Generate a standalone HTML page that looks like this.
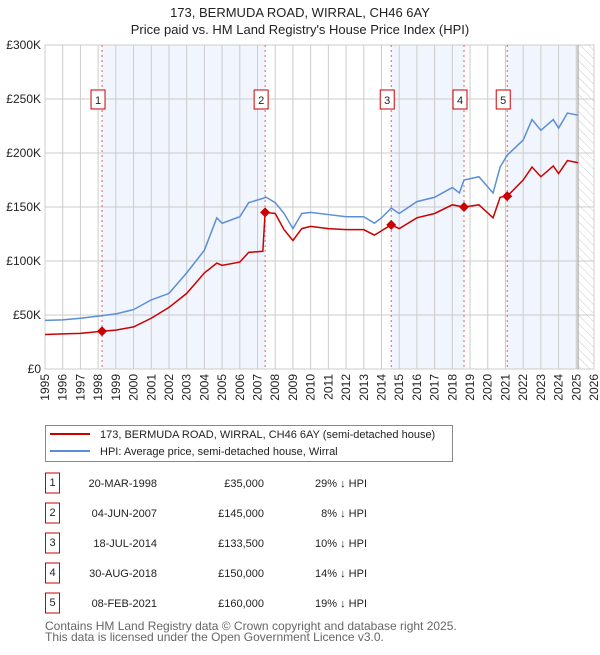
<!DOCTYPE html>
<html><head><meta charset="utf-8"><style>
body{margin:0;background:#fff;font-family:"Liberation Sans","DejaVu Sans",sans-serif;}
svg text{font-family:"Liberation Sans","DejaVu Sans",sans-serif;}
</style></head><body>
<svg id="chart" width="600" height="650" viewBox="0 0 600 650" xmlns="http://www.w3.org/2000/svg">
<defs><pattern id="hatch" width="6" height="6" patternUnits="userSpaceOnUse" patternTransform="rotate(-45)"><line x1="0" y1="0" x2="0" y2="6" stroke="#ccc" stroke-width="1"/></pattern></defs>
<text x="300" y="17" text-anchor="middle" font-size="13" fill="#222">173, BERMUDA ROAD, WIRRAL, CH46 6AY</text>
<text x="300" y="34" text-anchor="middle" font-size="13" fill="#222">Price paid vs. HM Land Registry's House Price Index (HPI)</text>
<g id="plot"></g>
<g>
<rect x="45.5" y="425.5" width="407" height="36" fill="#fff" stroke="#888"/>
<line x1="50" y1="434" x2="90" y2="434" stroke="#cc0000" stroke-width="2"/>
<text x="100" y="438" font-size="11" fill="#222">173, BERMUDA ROAD, WIRRAL, CH46 6AY (semi-detached house)</text>
<line x1="50" y1="451" x2="90" y2="451" stroke="#5b8ed6" stroke-width="2"/>
<text x="100" y="455" font-size="11" fill="#222">HPI: Average price, semi-detached house, Wirral</text>
</g>
<g id="table"></g>
<text x="45" y="630" font-size="12" fill="#666">Contains HM Land Registry data © Crown copyright and database right 2025.</text>
<text x="45" y="641" font-size="12" fill="#666">This data is licensed under the Open Government Licence v3.0.</text>
</svg>
<script>
const hpiYears=[1995,1996,1997,1998,1999,2000,2001,2002,2003,2004,2004.7,2005,2006,2006.5,2007.5,2008,2008.5,2009,2009.5,2010,2011,2012,2013,2013.6,2014,2014.55,2015,2016,2017,2018,2018.4,2018.66,2019.5,2020.3,2020.7,2021.1,2022,2022.5,2023,2023.7,2024,2024.5,2025.1];
const hpiValues=[45,45.5,47,49,51,55,64,70,89,110,140,135,141,154,159,154,144,130,144,145,143,141,141,135,140,149,144,155,159,168,163,175,178,163,187,198,212,231,221,231,223,237,235];
const ppYears=[1995,1996,1997,1998.2,1999,2000,2001,2002,2003,2004,2004.7,2005,2006,2006.5,2007.3,2007.43,2008,2008.5,2009,2009.5,2010,2011,2012,2013,2013.6,2014.55,2015,2016,2017,2018,2018.66,2019.5,2020.3,2020.7,2021.1,2022,2022.5,2023,2023.7,2024,2024.5,2025.1];
const ppValues=[32,32.5,33,35,36,39,47,57,70,89,98,96,99,108,109,145,144,129,119,130,132,130,129,129,124,133.5,130,140,144,152,150,152,140,159,160,175,187,178,188,181,193,191];
const saleNums=["1","2","3","4","5"];
const saleYears=[1998.22,2007.43,2014.55,2018.66,2021.1];
const saleValues=[35,145,133.5,150,160];
const saleDates=["20-MAR-1998","04-JUN-2007","18-JUL-2014","30-AUG-2018","08-FEB-2021"];
const salePrices=["£35,000","£145,000","£133,500","£150,000","£160,000"];
const salePcts=["29% ↓ HPI","8% ↓ HPI","10% ↓ HPI","14% ↓ HPI","19% ↓ HPI"];
const yTicks=[0,50,100,150,200,250,300];
const yTickLabels=["£0","£50K","£100K","£150K","£200K","£250K","£300K"];
const xTicks=[1995,1996,1997,1998,1999,2000,2001,2002,2003,2004,2005,2006,2007,2008,2009,2010,2011,2012,2013,2014,2015,2016,2017,2018,2019,2020,2021,2022,2023,2024,2025,2026];
const dataEnd=2025.1;

const X0=45,X1=594,Y0=369,Y1=45;
const x=v=>X0+(v-1995)/(2026-1995)*(X1-X0);
const y=v=>Y0-v/300*(Y0-Y1);
const NS="http://www.w3.org/2000/svg";
const plot=document.getElementById('plot');
function mk(tag,attrs,parent){const e=document.createElementNS(NS,tag);for(const k in attrs)e.setAttribute(k,attrs[k]);(parent||plot).appendChild(e);return e;}

for(let i=0;i<saleYears.length;i+=2){
  const a=saleYears[i],b=i+1<saleYears.length?saleYears[i+1]:dataEnd;
  const r=mk('rect',{x:x(a),y:Y1,width:x(b)-x(a),height:Y0-Y1,fill:'#eef3fc',opacity:0.8});
  
  
}
const h=mk('rect',{x:x(dataEnd),y:Y1,width:X1-x(dataEnd),height:Y0-Y1,fill:'url(#hatch)'});


xTicks.forEach(t=>{
  const l=mk('line',{x1:x(t),x2:x(t),y1:Y1,y2:Y0,stroke:'#ccc','stroke-width':1});
  
  
  const tx=mk('text',{x:0,y:0,'text-anchor':'end','font-size':12,fill:'#222',transform:`translate(${x(t)+4},${Y0+5}) rotate(-90)`});
  
  
  tx.textContent=t;
});
yTicks.forEach((t,i)=>{
  const l=mk('line',{x1:X0,x2:X1,y1:y(t),y2:y(t),stroke:'#ccc','stroke-width':1});
  
  
  const tx=mk('text',{x:X0-4,y:y(t)+4,'text-anchor':'end','font-size':12,fill:'#222'});
  
  
  tx.textContent=yTickLabels[i];
});
const bd=mk('rect',{x:X0,y:Y1,width:X1-X0,height:Y0-Y1,fill:'none',stroke:'#ccc'});


const el=mk('line',{x1:x(dataEnd),x2:x(dataEnd),y1:Y1,y2:Y0,stroke:'#999','stroke-width':1});


saleYears.forEach(s=>{
  const l=mk('line',{x1:x(s),x2:x(s),y1:Y1,y2:Y0,stroke:'#e06060','stroke-dasharray':'2,3','stroke-width':1});
  
  
});
const hp=mk('polyline',{points:hpiYears.map((t,i)=>x(t)+','+y(hpiValues[i])).join(' '),fill:'none',stroke:'#5b8ed6','stroke-width':1.5});


const pp=mk('polyline',{points:ppYears.map((t,i)=>x(t)+','+y(ppValues[i])).join(' '),fill:'none',stroke:'#cc0000','stroke-width':1.5});


saleYears.forEach((s,i)=>{
  const cx=x(s),cy=y(saleValues[i]);
  const d=mk('polygon',{points:`${cx},${cy-5} ${cx+5},${cy} ${cx},${cy+5} ${cx-5},${cy}`,fill:'#cc0000'});
  
  
  const g=mk('g',{});
  
  
  mk('rect',{x:cx-11,y:90,width:14,height:19,fill:'#fff',stroke:'#cc0000'},g);
  const t=mk('text',{x:cx-4,y:104,'text-anchor':'middle','font-size':11,fill:'#222'},g);
  t.textContent=saleNums[i];
});
const tb=document.getElementById('table');
saleNums.forEach((n,i)=>{
  const cy=483+i*30;
  const g=mk('g',{},tb);
  
  
  mk('rect',{x:45.5,y:cy-10,width:14,height:20,fill:'#fff',stroke:'#cc0000'},g);
  const a=mk('text',{x:52.5,y:cy+3,'text-anchor':'middle','font-size':11,fill:'#222'},g);a.textContent=n;
  const b=mk('text',{x:157,y:cy+4,'text-anchor':'end','font-size':11,fill:'#222'},g);b.textContent=saleDates[i];
  const c=mk('text',{x:264,y:cy+4,'text-anchor':'end','font-size':11,fill:'#222'},g);c.textContent=salePrices[i];
  const e=mk('text',{x:367,y:cy+4,'text-anchor':'end','font-size':11,fill:'#222'},g);e.textContent=salePcts[i];
});
</script>
</body></html>
